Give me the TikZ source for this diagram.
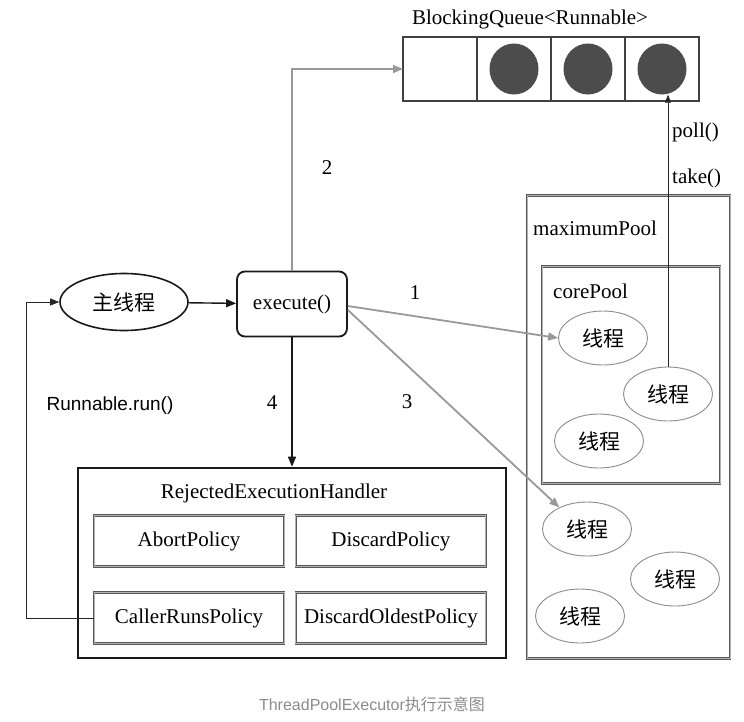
\documentclass[tikz,border=0pt]{standalone}
\usepackage{fontspec}
\setmainfont{Liberation Serif}
\newfontfamily\cjk{Noto Sans CJK SC}
\newfontfamily\capfont{Liberation Sans}
\usetikzlibrary{positioning,arrows.meta,shapes.geometric}

\begin{document}
\begin{tikzpicture}[
  x=1pt, y=-1pt,
  txt/.style={font=\fontsize{21}{24}\selectfont, inner sep=0pt},
  cell/.style={draw=black!75, line width=1.8pt, minimum width=74pt,
               minimum height=64pt, inner sep=0pt, outer sep=0pt},
  ball/.style={ellipse, fill=black!70, minimum width=49pt,
               minimum height=51pt, inner sep=0pt},
  thread/.style={ellipse, draw=black!45, line width=0.9pt, minimum width=89pt,
                 minimum height=54pt, inner sep=0pt,
                 font=\cjk\fontsize{21}{24}\selectfont},
  pool/.style={draw=black!65, double=black!30, double distance=1pt,
               line width=0.9pt, inner sep=0pt},
  policy/.style={pool, minimum width=190pt, minimum height=51pt,
                 font=\fontsize{21}{24}\selectfont},
  grayarr/.style={draw=black!40, line width=1.8pt,
                  -{Triangle[length=10pt,width=8pt]}},
  blackarr/.style={draw=black!90, line width=1.4pt,
                   -{Triangle[length=10pt,width=8pt]}},
  >=Stealth
]
\useasboundingbox[fill=white] (0,0) rectangle (744,721);

% Queue
\node[txt] (qlabel) at (530,19) {BlockingQueue<Runnable>};
\node[cell] (q1) at (440,69) {};
\node[cell, right=0pt of q1] (q2) {};
\node[cell, right=0pt of q2] (q3) {};
\node[cell, right=0pt of q3] (q4) {};
\node[ball] (b2) at (q2) {};
\node[ball] (b3) at (q3) {};
\node[ball] (b4) at (q4) {};

% Main thread and execute
\node[ellipse, draw=black!90, line width=1.6pt, minimum width=128pt,
      minimum height=57pt, inner sep=0pt, font=\cjk\fontsize{21}{24}\selectfont]
  (main) at (124,302) {主线程};
\node[draw=black!90, line width=1.8pt, rounded corners=8pt, minimum width=110pt,
      minimum height=65pt, inner sep=0pt, font=\fontsize{21}{24}\selectfont]
  (exec) at (292,304) {execute()};

% Pools
\node[pool, minimum width=203pt, minimum height=463pt] (maxpool) at (628.5,427) {};
\node[txt, anchor=west] (maxlabel) at (533,228) {maximumPool};
\node[pool, minimum width=178pt, minimum height=217pt] (corepool) at (631,375) {};
\node[txt, anchor=west] (corelabel) at (553,291) {corePool};

% Threads
\node[thread] (t1) at (603,338) {线程};
\node[thread] (t2) at (668,394) {线程};
\node[thread] (t3) at (599,441) {线程};
\node[thread] (t4) at (587,529) {线程};
\node[thread] (t5) at (675,579) {线程};
\node[thread] (t6) at (580,616) {线程};

% Rejected handler
\node[draw=black!90, line width=2.6pt, minimum width=428pt, minimum height=190pt,
      inner sep=0pt] (handler) at (292,563) {};
\node[txt] (hlabel) at (274,493) {RejectedExecutionHandler};
\node[policy] (abort) at (189,541) {AbortPolicy};
\node[policy, right=11pt of abort] (discard) {DiscardPolicy};
\node[policy] (caller) at (189,618) {CallerRunsPolicy};
\node[policy, right=11pt of caller] (oldest) {DiscardOldestPolicy};

% Arrows
\draw[blackarr] (main) -- (exec);
\draw[grayarr] ([yshift=-2pt]exec.east) -- (t1.west);
\draw[grayarr] (exec.north) |- (q1.west);
\draw[grayarr] ([yshift=-6pt]exec.east) -- (t4.142);
\draw[blackarr] (exec.south) -- (handler.north);
\draw[draw=black!85, line width=0.8pt, -{Triangle[length=8pt,width=6pt]}]
  (t2.north) -- (t2.north |- b4.south);
\coordinate (retx) at (26,0);
\draw[draw=black!85, line width=0.8pt, -{Triangle[length=9pt,width=7pt]}]
  (caller.west) -- (caller.west -| retx) |- (main.west);

% Labels
\node[txt] (n1) at (415,293) {1};
\node[txt] (n2) at (327,168) {2};
\node[txt] (n3) at (407,402) {3};
\node[txt] (n4) at (272,403) {4};
\node[txt, anchor=west] (poll) at (672,132) {poll()};
\node[txt, anchor=west] (take) at (672,178) {take()};
\node[font=\capfont\fontsize{19}{22}\selectfont, inner sep=0pt]
  (runlabel) at (110,406) {Runnable.run()};

% Caption
\node[font=\capfont\fontsize{16}{19}\selectfont, text=black!45, inner sep=0pt]
  (caption) at (372,704) {ThreadPoolExecutor{\cjk 执行示意图}};
\end{tikzpicture}
\end{document}
